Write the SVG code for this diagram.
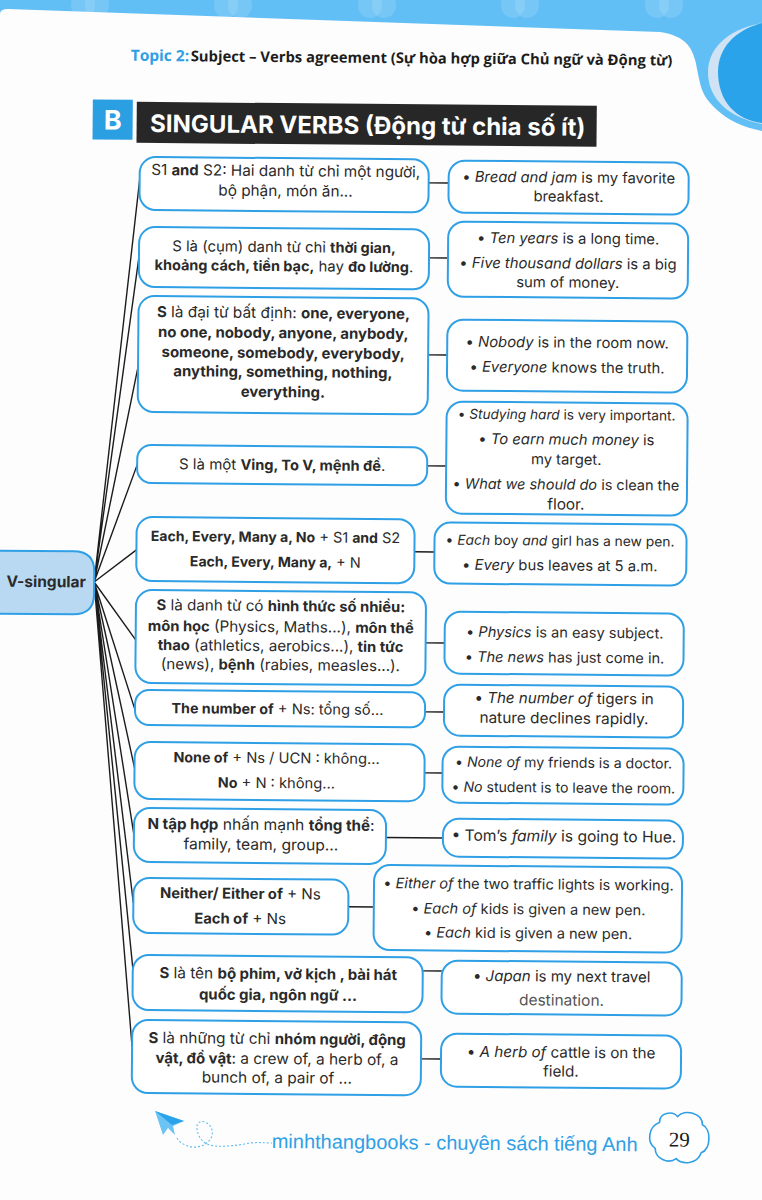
<svg xmlns="http://www.w3.org/2000/svg" width="762" height="1200" viewBox="0 0 762 1200">
<style>
svg{font-size:14.8px}
text{font-family:"Inter","Noto Sans","Liberation Sans",sans-serif;fill:#2a2a2a;text-anchor:middle}
.b{font-weight:700;font-size:.97em}
.i{font-style:italic}
.box{fill:#fff;stroke:#2f9fe6;stroke-width:2}
.con{stroke:#1c1c1c;stroke-width:1.4;fill:none}
.spot{fill:#fff;opacity:.13}
</style>
<rect width="762" height="1200" fill="#fdfdfd"/>
<g id="page-decoration">
<path d="M0 0H762V131C742 127 728 120 717 110C706 100 702 92 700 83C697 70 696 62 695 60C692 48 686 36 660 32L8 9Q0 9 0 14Z" fill="#62bff5"/>
<ellipse class="spot" cx="83" cy="5" rx="12" ry="13"/><ellipse class="spot" cx="97" cy="5" rx="12" ry="13"/>
<ellipse class="spot" cx="226" cy="5" rx="12" ry="13"/><ellipse class="spot" cx="240" cy="5" rx="12" ry="13"/>
<ellipse class="spot" cx="370" cy="5" rx="12" ry="13"/><ellipse class="spot" cx="384" cy="5" rx="12" ry="13"/>
<ellipse class="spot" cx="513" cy="5" rx="12" ry="13"/><ellipse class="spot" cx="527" cy="5" rx="12" ry="13"/>
<ellipse class="spot" cx="657" cy="5" rx="12" ry="13"/><ellipse class="spot" cx="671" cy="5" rx="12" ry="13"/>
<path d="M762 23C725 30 708 50 708 72C708 100 730 118 762 124Z" fill="#cfe3f5"/>
<path d="M762 23C735 30 718 48 718 72C718 100 735 120 762 123Z" fill="#2ba3ea"/>
</g>
<g id="footer-plane">
<path d="M155 1111L184 1121L173 1126L175 1135L168 1128L163 1135Z" fill="#6cc4f5"/>
<path d="M155 1111L184 1121L172 1125Z" fill="#2ba3ea"/>
<path d="M177 1138C180 1144 190 1148 197 1147C204 1146 209 1142 211 1138C214 1132 212 1125 205 1122C199 1120 196 1124 197 1129C198 1136 202 1142 207 1144C216 1148 235 1146 250 1143C258 1142 264 1143 272 1143" fill="none" stroke="#5fbdf3" stroke-width="1.1" stroke-dasharray="2 2"/>
</g>
<g transform="rotate(0.5 381 600)">
<g id="header">
<text x="126" y="63" style="text-anchor:start;font-family:'Open Sans',sans-serif;font-weight:700;font-size:15.500px;fill:#2f9fe6">Topic 2:</text>
<text x="186" y="63" style="text-anchor:start;font-family:'Open Sans',sans-serif;font-weight:700;font-size:14.8px;fill:#1c1c1c">Subject – Verbs agreement (Sự hòa hợp giữa Chủ ngữ và Động từ)</text>
<rect x="88.500" y="102" width="40" height="40" fill="#2a9fe2"/>
<text x="108.500" y="132" style="font-weight:700;font-size:27px;fill:#fff">B</text>
<rect x="132.500" y="104" width="460" height="41" fill="#272727"/>
<text x="146" y="134" style="text-anchor:start;font-weight:700;font-size:24px;fill:#fff">SINGULAR VERBS (Động từ chia số ít)</text>
</g>
<g id="connectors">
<path class="con" d="M94 584.500L136 182M94 584.500L136 259M94 584.500L136 369M94 584.500L136 467M94 584.500L136 552M94 584.500L136 642M94 584.500L136 712M94 584.500L136 770M94 584.500L136 837M94 584.500L136 905M94 584.500L136 970M94 584.500L136 1049"/>
<path class="con" d="M425 182.500H445M426 257.500H445M426 354.500H445M426 465.500H445M414 551.500H434M426 642.500H445M426 711.500H445M426 772.500H444M388 837.500H445M351 907H377M426 970.500H445M425 1058.500H445"/>
</g>
<g id="hub"><path d="M-12 554H73Q94 554 94 574V597Q94 617 73 617H-12Z" fill="#b9d9f2" stroke="#2f9fe6" stroke-width="2"/><text x="46" y="590" class="b" style="font-size:15.5px">V-singular</text></g>
<g id="L1" style="font-size:15.3px"><rect class="box" x="136" y="159" width="289" height="53" rx="16"/><text x="282" y="177">S1 <tspan class="b">and</tspan> S2: Hai danh từ chỉ một người,</text><text x="282" y="197">bộ phận, món ăn...</text></g>
<g id="L2" style="font-size:14.9px"><rect class="box" x="136" y="229" width="290" height="60" rx="16"/><text x="281" y="253">S là (cụm) danh từ chỉ <tspan class="b">thời gian,</tspan></text><text x="281" y="272"><tspan class="b">khoảng cách, tiền bạc,</tspan> hay <tspan class="b">đo lường</tspan>.</text></g>
<g id="L3" style="font-size:15.4px"><rect class="box" x="136" y="298" width="290" height="116" rx="16"/><text x="281" y="319"><tspan class="b">S</tspan> là đại từ bất định: <tspan class="b">one, everyone,</tspan></text><text x="281" y="339"><tspan class="b">no one, nobody, anyone, anybody,</tspan></text><text x="281" y="359"><tspan class="b">someone, somebody, everybody,</tspan></text><text x="281" y="378"><tspan class="b">anything, something, nothing,</tspan></text><text x="281" y="398"><tspan class="b">everything.</tspan></text></g>
<g id="L4" style="font-size:15px"><rect class="box" x="136" y="447" width="290" height="38" rx="14"/><text x="281" y="471">S là một <tspan class="b">Ving, To V, mệnh đề</tspan>.</text></g>
<g id="L5" style="font-size:14.5px"><rect class="box" x="136" y="519" width="278" height="64" rx="16"/><text x="275" y="543"><tspan class="b">Each, Every, Many a, No</tspan> + S1 <tspan class="b">and</tspan> S2</text><text x="275" y="568"><tspan class="b">Each, Every, Many a,</tspan> + N</text></g>
<g id="L6" style="font-size:15.2px"><rect class="box" x="136" y="592" width="290" height="93" rx="16"/><text x="281" y="612"><tspan class="b">S</tspan> là danh từ có <tspan class="b">hình thức số nhiều:</tspan></text><text x="281" y="633"><tspan class="b">môn học</tspan> (Physics, Maths...), <tspan class="b">môn thể</tspan></text><text x="281" y="652"><tspan class="b">thao</tspan> (athletics, aerobics...), <tspan class="b">tin tức</tspan></text><text x="281" y="671">(news), <tspan class="b">bệnh</tspan> (rabies, measles...).</text></g>
<g id="L7" style="font-size:14.7px"><rect class="box" x="136" y="692" width="290" height="35" rx="14"/><text x="278.500" y="715"><tspan class="b">The number of</tspan> + Ns: tổng số...</text></g>
<g id="L8" style="font-size:14.7px"><rect class="box" x="136" y="744" width="290" height="57" rx="16"/><text x="278" y="764"><tspan class="b">None of</tspan> + Ns / UCN : không...</text><text x="278" y="789"><tspan class="b">No</tspan> + N : không...</text></g>
<g id="L9" style="font-size:15.6px"><rect class="box" x="136" y="810" width="252" height="54" rx="16"/><text x="263" y="831"><tspan class="b">N tập hợp</tspan> nhấn mạnh <tspan class="b">tổng thể</tspan>:</text><text x="263" y="851">family, team, group...</text></g>
<g id="L10" style="font-size:15.2px"><rect class="box" x="136" y="880" width="215" height="55" rx="16"/><text x="243" y="900"><tspan class="b">Neither/ Either of</tspan> + Ns</text><text x="243" y="925"><tspan class="b">Each of</tspan> + Ns</text></g>
<g id="L11" style="font-size:15.4px"><rect class="box" x="136" y="957" width="290" height="55" rx="16"/><text x="281.500" y="980"><tspan class="b">S</tspan> là tên <tspan class="b">bộ phim, vở kịch , bài hát</tspan></text><text x="281.500" y="1001"><tspan class="b">quốc gia, ngôn ngữ ...</tspan></text></g>
<g id="L12" style="font-size:15.4px"><rect class="box" x="136" y="1022" width="289" height="73" rx="16"/><text x="281" y="1045"><tspan class="b">S</tspan> là những từ chỉ <tspan class="b">nhóm người, động</tspan></text><text x="281" y="1065"><tspan class="b">vật, đồ vật</tspan>: a crew of, a herb of, a</text><text x="281" y="1084">bunch of, a pair of ...</text></g>
<g id="R1"><rect class="box" x="445" y="160" width="240" height="52" rx="16"/><text x="565" y="181">• <tspan class="i">Bread and jam</tspan> is my favorite</text><text x="565" y="200">breakfast.</text></g>
<g id="R2" style="font-size:14.8px"><rect class="box" x="445" y="221" width="240" height="75" rx="16"/><text x="565" y="242">• <tspan class="i">Ten years</tspan> is a long time.</text><text x="565" y="267">• <tspan class="i">Five thousand dollars</tspan> is a big</text><text x="565" y="286">sum of money.</text></g>
<g id="R3"><rect class="box" x="445" y="319" width="240" height="71" rx="16"/><text x="565" y="346">• <tspan class="i">Nobody</tspan> is in the room now.</text><text x="565" y="371">• <tspan class="i">Everyone</tspan> knows the truth.</text></g>
<g id="R4"><rect class="box" x="445" y="401" width="241" height="112" rx="16"/><text x="565" y="418" style="font-size:13.6px">• <tspan class="i">Studying hard</tspan> is very important.</text><text x="565" y="443">• <tspan class="i">To earn much money</tspan> is</text><text x="565" y="463">my target.</text><text x="565" y="488" style="font-size:14.5px">• <tspan class="i">What we should do</tspan> is clean the</text><text x="565" y="508" style="font-size:15.4px">floor.</text></g>
<g id="R5"><rect class="box" x="434" y="522" width="252" height="61" rx="16"/><text x="559.500" y="544" style="font-size:13.85px">• <tspan class="i">Each</tspan> boy <tspan class="i">and</tspan> girl has a new pen.</text><text x="559.500" y="569">• <tspan class="i">Every</tspan> bus leaves at 5 a.m.</text></g>
<g id="R6" style="font-size:14.6px"><rect class="box" x="445" y="611" width="239" height="62" rx="16"/><text x="565" y="636">• <tspan class="i">Physics</tspan> is an easy subject.</text><text x="565" y="661">• <tspan class="i">The news</tspan> has just come in.</text></g>
<g id="R7" style="font-size:15.4px"><rect class="box" x="445" y="684" width="239" height="51" rx="16"/><text x="565" y="702" style="font-size:15.1px">• <tspan class="i">The number of</tspan> tigers in</text><text x="565" y="722">nature declines rapidly.</text></g>
<g id="R8"><rect class="box" x="444" y="746" width="241" height="56" rx="16"/><text x="565" y="766" style="font-size:14.1px">• <tspan class="i">None of</tspan> my friends is a doctor.</text><text x="565" y="791" style="font-size:14.1px">• <tspan class="i">No</tspan> student is to leave the room.</text></g>
<g id="R9" style="font-size:15.6px"><rect class="box" x="445" y="818" width="240" height="38" rx="16"/><text x="566" y="840">• Tom’s <tspan class="i">family</tspan> is going to Hue.</text></g>
<g id="R10" style="font-size:14.6px"><rect class="box" x="376.500" y="865" width="308" height="85" rx="16"/><text x="531" y="888">• <tspan class="i">Either of</tspan> the two traffic lights is working.</text><text x="531" y="913">• <tspan class="i">Each of</tspan> kids is given a new pen.</text><text x="531" y="937">• <tspan class="i">Each</tspan> kid is given a new pen.</text></g>
<g id="R11"><rect class="box" x="445" y="960" width="240" height="53" rx="16"/><text x="565" y="980" style="font-size:15px">• <tspan class="i">Japan</tspan> is my next travel</text><text x="565" y="1004" style="font-size:15.5px;fill:#555">destination.</text></g>
<g id="R12" style="font-size:15.2px"><rect class="box" x="445" y="1033" width="240" height="53" rx="16"/><text x="565" y="1056">• <tspan class="i">A herb of</tspan> cattle is on the</text><text x="565" y="1075">field.</text></g>
<g id="footer">
<text x="276.500" y="1149" style="text-anchor:start;font-family:'Liberation Sans',sans-serif;font-size:20px;fill:#2f9fe6">minhthangbooks - chuyên sách tiếng Anh</text>
<path d="M664 1120C664 1110 677 1108 682 1114C689 1106 707 1110 707 1122C716 1126 716 1146 706 1150C702 1162 687 1162 681 1156C673 1162 660 1156 660 1146C651 1140 653 1124 664 1120Z" fill="#fff" stroke="#2f9fe6" stroke-width="1.6"/>
<text x="684" y="1144" style="font-family:'Liberation Serif',serif;font-size:21px;fill:#1c1c1c">29</text>
</g>
</g>
</svg>
